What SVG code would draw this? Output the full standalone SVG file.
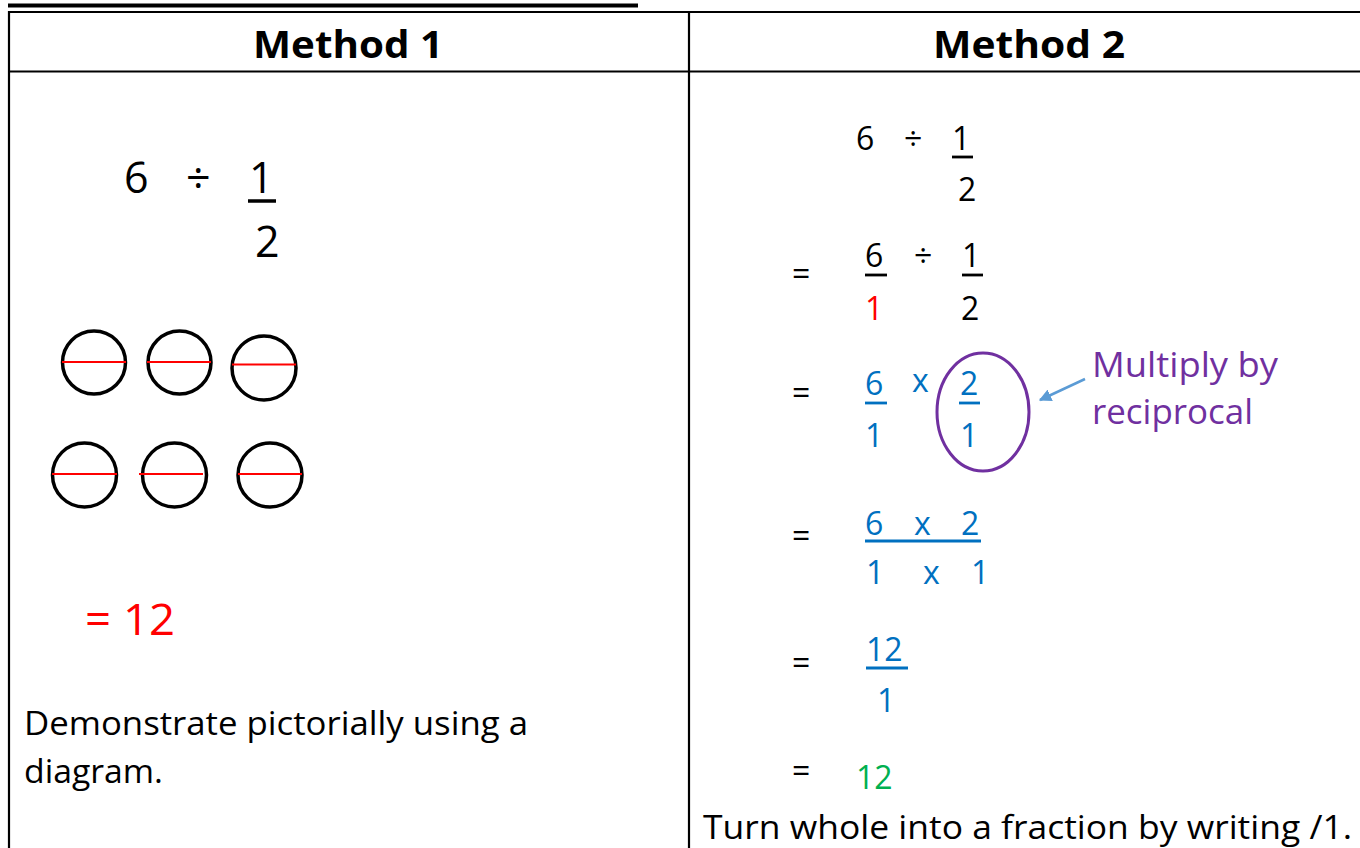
<svg xmlns="http://www.w3.org/2000/svg" width="1360" height="848" viewBox="0 0 1360 848">
<style>
text{font-family:"Open Sans","Liberation Sans",sans-serif;}
.h{font-weight:bold;font-size:38px;fill:#000;text-anchor:middle;}
.k{fill:#000;}
.r{fill:#FF0000;}
.b{fill:#0070C0;}
.g{fill:#00B050;}
.p{fill:#7030A0;}
.big{font-size:43px;font-weight:500;}
.m{font-size:32px;font-weight:500;}
.body{font-size:33px;fill:#000;}
.grid{stroke:#000;stroke-width:2.2;fill:none;}
.circ{fill:none;stroke:#000;stroke-width:3.5;}
.half{stroke:#FF0000;stroke-width:2;}
.ul{stroke-width:2.8;}
</style>
<defs>
<marker id="ah" viewBox="0 0 10 10" refX="9" refY="5" markerWidth="5" markerHeight="5" orient="auto">
<path d="M0,0 L10,5 L0,10 z" fill="#5B9BD5"/>
</marker>
</defs>
<rect width="1360" height="848" fill="#fff"/>
<g id="top-bar"><rect x="8" y="3.5" width="630" height="4" fill="#000"/></g>
<g id="table">
<line class="grid" x1="9" y1="12" x2="1360" y2="12"/>
<line class="grid" x1="9" y1="71.5" x2="1360" y2="71.5"/>
<line class="grid" x1="9" y1="11" x2="9" y2="848"/>
<line class="grid" x1="689" y1="11" x2="689" y2="848"/>
</g>
<g id="header1"><text class="h" x="348" y="58" textLength="190" lengthAdjust="spacingAndGlyphs">Method 1</text></g>
<g id="header2"><text class="h" x="1029" y="58" textLength="192" lengthAdjust="spacingAndGlyphs">Method 2</text></g>
<g id="m1-expr">
<text class="k big" x="124" y="193">6</text>
<text class="k big" x="186" y="193">÷</text>
<text class="k big" x="249" y="193">1</text>
<line stroke="#000" x1="248" y1="201" x2="276" y2="201" stroke-width="3.5"/>
<text class="k big" x="255" y="257">2</text>
</g>
<g id="m1-circles">
<circle class="circ" cx="94" cy="362.5" r="31.5"/><line class="half" x1="62" y1="362" x2="126" y2="362"/>
<circle class="circ" cx="179.5" cy="362.5" r="31.5"/><line class="half" x1="147" y1="362" x2="211" y2="362"/>
<circle class="circ" cx="264" cy="368" r="32"/><line class="half" x1="232" y1="364.5" x2="296" y2="364.5"/>
<circle class="circ" cx="84.5" cy="475" r="32"/><line class="half" x1="52" y1="474" x2="117" y2="474"/>
<circle class="circ" cx="174.5" cy="475" r="32"/><line class="half" x1="139" y1="474" x2="203" y2="474"/>
<circle class="circ" cx="270" cy="475" r="32"/><line class="half" x1="238" y1="474" x2="302" y2="474"/>
</g>
<g id="m1-answer"><text class="r" x="85" y="635" style="font-size:44px" textLength="90" lengthAdjust="spacingAndGlyphs">= 12</text></g>
<g id="m1-note">
<text class="body" x="24" y="735" textLength="504" lengthAdjust="spacingAndGlyphs">Demonstrate pictorially using a</text>
<text class="body" x="24" y="783" textLength="139" lengthAdjust="spacingAndGlyphs">diagram.</text>
</g>
<g id="m2-step1">
<text class="k m" x="856" y="150">6</text>
<text class="k m" x="904" y="150">÷</text>
<text class="k m" x="952" y="150">1</text>
<line class="ul" stroke="#000" x1="952" y1="157" x2="973" y2="157"/>
<text class="k m" x="958" y="201">2</text>
</g>
<g id="m2-step2">
<text class="k m" x="792" y="285">=</text>
<text class="k m" x="865" y="267">6</text>
<line class="ul" stroke="#000" x1="865" y1="275" x2="887" y2="275"/>
<text class="r m" x="865" y="320">1</text>
<text class="k m" x="914" y="267">÷</text>
<text class="k m" x="962" y="267">1</text>
<line class="ul" stroke="#000" x1="962" y1="275" x2="983" y2="275"/>
<text class="k m" x="961" y="320">2</text>
</g>
<g id="m2-step3">
<text class="k m" x="792" y="404">=</text>
<text class="b m" x="865" y="395">6</text>
<line class="ul" stroke="#0070C0" x1="865" y1="403" x2="887" y2="403"/>
<text class="b m" x="865" y="447">1</text>
<text class="b m" x="912" y="392">x</text>
<text class="b m" x="960" y="395">2</text>
<line class="ul" stroke="#0070C0" x1="959" y1="403" x2="980" y2="403"/>
<text class="b m" x="960" y="447">1</text>
</g>
<g id="reciprocal-ring"><ellipse cx="983" cy="412" rx="46" ry="59" fill="none" stroke="#7030A0" stroke-width="3"/></g>
<g id="reciprocal-label">
<text class="p" x="1092" y="377" style="font-size:34px" textLength="186" lengthAdjust="spacingAndGlyphs">Multiply by</text>
<text class="p" x="1092" y="424" style="font-size:34px" textLength="161" lengthAdjust="spacingAndGlyphs">reciprocal</text>
</g>
<g id="connectors">
<line x1="1085" y1="379" x2="1040" y2="400" stroke="#5B9BD5" stroke-width="2.5" marker-end="url(#ah)"/>
</g>
<g id="m2-step4">
<text class="k m" x="792" y="547">=</text>
<text class="b m" x="865" y="535">6</text>
<text class="b m" x="914" y="535">x</text>
<text class="b m" x="961" y="535">2</text>
<line class="ul" stroke="#0070C0" x1="865" y1="541" x2="981" y2="541"/>
<text class="b m" x="866" y="584">1</text>
<text class="b m" x="923" y="584">x</text>
<text class="b m" x="971" y="584">1</text>
</g>
<g id="m2-step5">
<text class="k m" x="792" y="674">=</text>
<text class="b m" x="866" y="661">12</text>
<line class="ul" stroke="#0070C0" x1="866" y1="668" x2="908" y2="668"/>
<text class="b m" x="877" y="712">1</text>
</g>
<g id="m2-step6">
<text class="k m" x="792" y="782">=</text>
<text class="g m" x="856" y="789">12</text>
</g>
<g id="m2-note"><text class="body" x="703" y="839" textLength="649" lengthAdjust="spacingAndGlyphs">Turn whole into a fraction by writing /1.</text></g>
</svg>
